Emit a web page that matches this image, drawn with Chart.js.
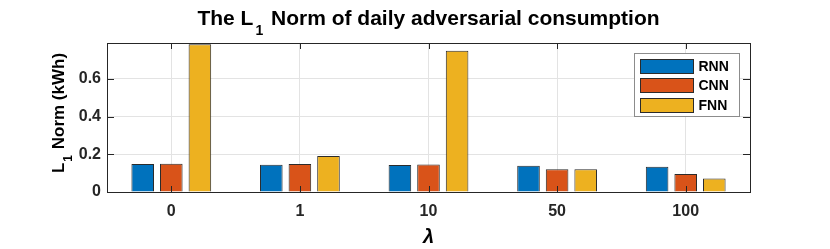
<!DOCTYPE html>
<html>
<head>
<meta charset="utf-8">
<script src="https://cdn.jsdelivr.net/npm/chart.js@4.4.0/dist/chart.umd.min.js"></script>
<style>
  html, body { margin:0; padding:0; background:#fff; }
</style>
</head>
<body>
<canvas id="chart" width="830" height="249"></canvas>
<script>
/* ===== DATA ===== */
const lambdas = ["0", "1", "10", "50", "100"];
const rnn = [0.148, 0.145, 0.143, 0.139, 0.134];
const cnn = [0.150, 0.148, 0.146, 0.120, 0.096];
const fnn = [0.784, 0.191, 0.749, 0.121, 0.071];
const seriesNames = ["RNN", "CNN", "FNN"];
const yTicks = [0, 0.2, 0.4, 0.6];
const yMax = 0.79;

const colors = ["#0072BD", "#D95319", "#EDB120"];
const FONT = "'Liberation Sans', Arial, sans-serif";

// draw text with a subscript part, centred on x
function drawRich(ctx, parts, x, y, size, subSize, subDrop) {
  let w = 0;
  parts.forEach(p => {
    ctx.font = "bold " + (p.sub ? subSize : size) + "px " + FONT;
    w += ctx.measureText(p.t).width + (p.gap || 0);
  });
  let cx = x - w / 2;
  ctx.textAlign = "left";
  ctx.textBaseline = "alphabetic";
  parts.forEach(p => {
    ctx.font = "bold " + (p.sub ? subSize : size) + "px " + FONT;
    cx += (p.gap || 0);
    ctx.fillText(p.t, cx, y + (p.sub ? subDrop : 0));
    cx += ctx.measureText(p.t).width;
  });
}

const decor = {
  id: "decor",
  afterDatasetsDraw(chart) {
    const ctx = chart.ctx, a = chart.chartArea;
    const xs = chart.scales.x, ys = chart.scales.y;
    ctx.save();
    ctx.strokeStyle = "#262626";
    ctx.lineWidth = 1;
    ctx.beginPath();
    // inward ticks
    lambdas.forEach((l, i) => {
      const px = Math.round(xs.getPixelForTick(i)) + 0.5;
      ctx.moveTo(px, a.bottom); ctx.lineTo(px, a.bottom - 6);
      ctx.moveTo(px, a.top); ctx.lineTo(px, a.top + 6);
    });
    yTicks.forEach(v => {
      const py = Math.round(ys.getPixelForValue(v)) + 0.5;
      ctx.moveTo(a.left, py); ctx.lineTo(a.left + 7, py);
      ctx.moveTo(a.right, py); ctx.lineTo(a.right - 7, py);
    });
    ctx.stroke();
    // box
    ctx.strokeRect(Math.round(a.left) + 0.5, Math.round(a.top) + 0.5,
      Math.round(a.right - a.left), Math.round(a.bottom - a.top));
    ctx.restore();
  },
  afterDraw(chart) {
    const ctx = chart.ctx, a = chart.chartArea;
    ctx.save();
    ctx.fillStyle = "#000";
    // title
    drawRich(ctx, [
      {t: "The L"},
      {t: "1", sub: true, gap: 2},
      {t: " Norm of daily adversarial consumption", gap: 2}
    ], (a.left + a.right) / 2, 25, 21, 14, 10);
    // y label
    ctx.save();
    ctx.translate(64, 113);
    ctx.rotate(-Math.PI / 2);
    drawRich(ctx, [
      {t: "L"},
      {t: "1", sub: true, gap: 1},
      {t: " Norm (kWh)", gap: 1}
    ], 0, 0, 17, 12, 8);
    ctx.restore();
    // x label
    ctx.font = "italic bold 20px " + FONT;
    ctx.textAlign = "center";
    ctx.textBaseline = "alphabetic";
    ctx.fillText("λ", (a.left + a.right) / 2, 243);
    // legend
    const bx = 634.5, by = 53.5, bw = 105, bh = 63;
    ctx.fillStyle = "#fff";
    ctx.fillRect(bx, by, bw, bh);
    ctx.strokeStyle = "#8c8c8c";
    ctx.strokeRect(bx, by, bw, bh);
    chart.data.datasets.forEach((ds, i) => {
      const ry = 59 + i * 19.3;
      ctx.fillStyle = ds.backgroundColor;
      ctx.fillRect(640.5, Math.round(ry) + 0.5, 53, 14);
      ctx.strokeStyle = "#2b2b2b";
      ctx.strokeRect(640.5, Math.round(ry) + 0.5, 53, 14);
      ctx.fillStyle = "#000";
      ctx.font = "bold 14px " + FONT;
      ctx.textAlign = "left";
      ctx.textBaseline = "middle";
      ctx.fillText(ds.label, 698.5, Math.round(ry) + 8);
    });
    ctx.restore();
  }
};

new Chart(document.getElementById("chart"), {
  type: "bar",
  data: {
    labels: lambdas,
    datasets: [rnn, cnn, fnn].map((d, i) => ({
      label: seriesNames[i],
      data: d,
      backgroundColor: colors[i],
      borderColor: "#2b2b2b",
      borderWidth: 1,
      categoryPercentage: 0.667,
      barPercentage: 0.79
    }))
  },
  options: {
    responsive: false,
    animation: false,
    devicePixelRatio: 1,
    layout: { padding: { left: 0, top: 43, right: 80, bottom: 0 } },
    plugins: { legend: { display: false }, title: { display: false }, tooltip: { enabled: false } },
    scales: {
      x: {
        grid: { color: "#e3e3e3", offset: false, drawTicks: false },
        border: { display: false },
        ticks: { color: "#262626", padding: 10, font: { family: FONT, size: 16, weight: "bold" } },
        afterFit(s) { s.height = 57; }
      },
      y: {
        min: 0, max: yMax,
        grid: { color: "#e3e3e3", drawTicks: false },
        border: { display: false },
        afterBuildTicks(s) { s.ticks = yTicks.map(v => ({ value: v })); },
        ticks: {
          color: "#262626", padding: 6,
          font: { family: FONT, size: 16, weight: "bold" },
          callback: v => String(v)
        },
        afterFit(s) { s.width = 107; }
      }
    }
  },
  plugins: [decor]
});
</script>
</body>
</html>
